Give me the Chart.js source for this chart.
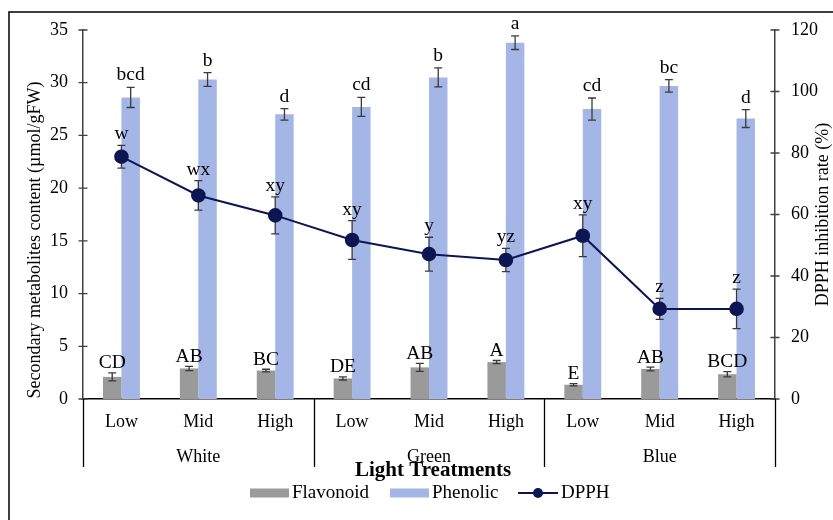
<!DOCTYPE html>
<html>
<head>
<meta charset="utf-8">
<script src="https://cdn.jsdelivr.net/npm/chart.js@4.4.0/dist/chart.umd.min.js"></script>
<style>
  html, body { margin: 0; padding: 0; background: #fff; }
  #wrap { width: 833px; height: 520px; position: relative; }
</style>
</head>
<body>
<div id="wrap"><canvas id="chart"></canvas></div>
<script>
// Light intensity levels within each light colour group
const intensities = ['Low', 'Mid', 'High', 'Low', 'Mid', 'High', 'Low', 'Mid', 'High'];
const lightGroups = ['White', 'Green', 'Blue'];

// Secondary metabolites (µmol/gFW), mean and error
const flavonoid    = [2.1, 2.9, 2.7, 1.95, 3.0, 3.5, 1.35, 2.85, 2.35];
const flavonoidErr = [0.38, 0.2, 0.12, 0.15, 0.38, 0.15, 0.1, 0.18, 0.25];
const phenolic     = [28.6, 30.3, 27.0, 27.7, 30.5, 33.8, 27.5, 29.7, 26.6];
const phenolicErr  = [0.95, 0.65, 0.55, 0.9, 0.9, 0.65, 1.05, 0.6, 0.85];

// DPPH inhibition rate (%), mean and error
const dpph    = [78.8, 66.2, 59.7, 51.7, 47.1, 45.2, 53.1, 29.3, 29.3];
const dpphErr = [3.7, 4.8, 6.0, 6.3, 5.5, 3.8, 6.8, 3.4, 6.4];

// Significance letters
const flavonoidLetters = ['CD', 'AB', 'BC', 'DE', 'AB', 'A', 'E', 'AB', 'BCD'];
const phenolicLetters  = ['bcd', 'b', 'd', 'cd', 'b', 'a', 'cd', 'bc', 'd'];
const dpphLetters      = ['w', 'wx', 'xy', 'xy', 'y', 'yz', 'xy', 'z', 'z'];

const SERIF = '"Liberation Serif", "Times New Roman", serif';
const GRAY = '#9a9a9a';
const BLUE = '#a4b6e6';
const NAVY = '#0d1652';
const ERR = '#3a3a3a';

function errorBar(ctx, x, yTop, yBot, half) {
  ctx.beginPath();
  ctx.moveTo(x, yTop); ctx.lineTo(x, yBot);
  ctx.moveTo(x - half, yTop); ctx.lineTo(x + half, yTop);
  ctx.moveTo(x - half, yBot); ctx.lineTo(x + half, yBot);
  ctx.stroke();
}

const decor = {
  id: 'decor',
  beforeDraw(chart) {
    const { ctx, width, height } = chart;
    ctx.save();
    ctx.fillStyle = '#fff';
    ctx.fillRect(0, 0, width, height);
    // figure frame
    ctx.strokeStyle = '#000';
    ctx.lineWidth = 1.5;
    ctx.beginPath();
    ctx.moveTo(9, height + 2);
    ctx.lineTo(9, 12);
    ctx.lineTo(width + 2, 12);
    ctx.stroke();
    ctx.restore();
  },
  beforeDatasetDraw(chart, args) {
    if (args.index !== 2) return;
    const { ctx, scales } = chart;
    ctx.save();
    ctx.strokeStyle = ERR;
    ctx.lineWidth = 1.3;
    const fMeta = chart.getDatasetMeta(0), pMeta = chart.getDatasetMeta(1), dMeta = chart.getDatasetMeta(2);
    for (let i = 0; i < intensities.length; i++) {
      errorBar(ctx, fMeta.data[i].x,
        scales.y.getPixelForValue(flavonoid[i] + flavonoidErr[i]),
        scales.y.getPixelForValue(flavonoid[i] - flavonoidErr[i]), 4);
      errorBar(ctx, pMeta.data[i].x,
        scales.y.getPixelForValue(phenolic[i] + phenolicErr[i]),
        scales.y.getPixelForValue(phenolic[i] - phenolicErr[i]), 4);
      errorBar(ctx, dMeta.data[i].x,
        scales.y1.getPixelForValue(dpph[i] + dpphErr[i]),
        scales.y1.getPixelForValue(dpph[i] - dpphErr[i]), 4);
    }
    ctx.restore();
  },
  afterDatasetsDraw(chart) {
    const { ctx, scales } = chart;
    const fMeta = chart.getDatasetMeta(0), pMeta = chart.getDatasetMeta(1), dMeta = chart.getDatasetMeta(2);
    ctx.save();
    ctx.fillStyle = '#000';
    ctx.font = '19.5px ' + SERIF;
    ctx.textAlign = 'center';
    ctx.textBaseline = 'alphabetic';
    for (let i = 0; i < intensities.length; i++) {
      ctx.fillText(flavonoidLetters[i], fMeta.data[i].x,
        scales.y.getPixelForValue(flavonoid[i] + flavonoidErr[i]) - 4.5);
      ctx.fillText(phenolicLetters[i], pMeta.data[i].x,
        scales.y.getPixelForValue(phenolic[i] + phenolicErr[i]) - 7);
      ctx.fillText(dpphLetters[i], dMeta.data[i].x,
        scales.y1.getPixelForValue(dpph[i] + dpphErr[i]) - 6);
    }
    ctx.restore();
  },
  afterDraw(chart) {
    const { ctx, scales, chartArea } = chart;
    const x = scales.x, y = scales.y, y1 = scales.y1;
    ctx.save();
    // crossing tick marks on both value axes
    ctx.strokeStyle = '#404040';
    ctx.lineWidth = 1.3;
    ctx.beginPath();
    y.ticks.forEach(t => {
      const py = y.getPixelForValue(t.value);
      ctx.moveTo(chartArea.left - 4.5, py); ctx.lineTo(chartArea.left + 4.5, py);
    });
    y1.ticks.forEach(t => {
      const py = y1.getPixelForValue(t.value);
      ctx.moveTo(chartArea.right - 4.5, py); ctx.lineTo(chartArea.right + 4.5, py);
    });
    ctx.stroke();

    // group separators below the category axis
    const step = (chartArea.right - chartArea.left) / intensities.length;
    ctx.strokeStyle = '#000';
    ctx.lineWidth = 1.3;
    ctx.beginPath();
    for (let g = 0; g <= lightGroups.length; g++) {
      const px = Math.round(chartArea.left + g * 3 * step) + 0.5;
      ctx.moveTo(px, chartArea.bottom);
      ctx.lineTo(px, chartArea.bottom + 68);
    }
    ctx.stroke();

    ctx.fillStyle = '#000';
    ctx.textAlign = 'center';
    ctx.textBaseline = 'middle';
    ctx.font = '18px ' + SERIF;
    lightGroups.forEach((name, g) => {
      const cx = (x.getPixelForValue(g * 3) + x.getPixelForValue(g * 3 + 2)) / 2;
      ctx.fillText(name, cx, chartArea.bottom + 58);
    });

    // axis title for the categories
    const midX = (chartArea.left + chartArea.right) / 2 + 4;
    ctx.font = 'bold 21px ' + SERIF;
    ctx.fillText('Light Treatments', midX, chartArea.bottom + 72);

    // value axis titles
    ctx.font = '18px ' + SERIF;
    ctx.save();
    ctx.translate(35, 240);
    ctx.rotate(-Math.PI / 2);
    ctx.fillText('Secondary metabolites content (\u00b5mol/gFW)', 0, 0);
    ctx.restore();
    ctx.save();
    ctx.translate(823, (chartArea.top + chartArea.bottom) / 2);
    ctx.rotate(-Math.PI / 2);
    ctx.fillText('DPPH inhibition rate (%)', 0, 0);
    ctx.restore();

    // legend
    const ly = chartArea.bottom + 94;
    ctx.textAlign = 'left';
    ctx.font = '19px ' + SERIF;
    ctx.fillStyle = GRAY;
    ctx.fillRect(250, ly - 4.5, 39, 9);
    ctx.fillStyle = '#000';
    ctx.fillText('Flavonoid', 292, ly);
    ctx.fillStyle = BLUE;
    ctx.fillRect(390, ly - 4.5, 39, 9);
    ctx.fillStyle = '#000';
    ctx.fillText('Phenolic', 432, ly);
    ctx.strokeStyle = NAVY;
    ctx.lineWidth = 2;
    ctx.beginPath();
    ctx.moveTo(518, ly); ctx.lineTo(558, ly);
    ctx.stroke();
    ctx.fillStyle = NAVY;
    ctx.beginPath();
    ctx.arc(538, ly, 5, 0, Math.PI * 2);
    ctx.fill();
    ctx.fillStyle = '#000';
    ctx.fillText('DPPH', 561, ly);
    ctx.restore();
  }
};

new Chart(document.getElementById('chart'), {
  type: 'bar',
  data: {
    labels: intensities,
    datasets: [
      { label: 'Flavonoid', data: flavonoid, backgroundColor: GRAY, yAxisID: 'y', order: 1,
        categoryPercentage: 0.48, barPercentage: 1.0 },
      { label: 'Phenolic', data: phenolic, backgroundColor: BLUE, yAxisID: 'y', order: 1,
        categoryPercentage: 0.48, barPercentage: 1.0 },
      { type: 'line', label: 'DPPH', data: dpph, yAxisID: 'y1', order: 0,
        borderColor: NAVY, borderWidth: 2, backgroundColor: NAVY,
        pointRadius: 6.3, pointBackgroundColor: NAVY, pointBorderColor: NAVY,
        tension: 0, fill: false }
    ]
  },
  plugins: [decor],
  options: {
    responsive: true,
    maintainAspectRatio: false,
    animation: false,
    devicePixelRatio: 1,
    layout: { padding: { top: 30, left: 0, right: 0, bottom: 0 } },
    plugins: { legend: { display: false }, tooltip: { enabled: false } },
    scales: {
      x: {
        offset: true,
        grid: { display: false, drawTicks: false },
        border: { display: true, color: '#000', width: 1.5 },
        ticks: { color: '#000', font: { family: SERIF, size: 18 }, padding: 12, maxRotation: 0, autoSkip: false },
        afterFit(s) { s.height = 121; }
      },
      y: {
        position: 'left',
        min: 0, max: 35,
        grid: { display: false, drawTicks: false },
        border: { display: true, color: '#404040', width: 1.5 },
        ticks: { stepSize: 5, color: '#000', font: { family: SERIF, size: 18 }, padding: 15 },
        afterFit(s) { s.width = 83; }
      },
      y1: {
        position: 'right',
        min: 0, max: 120,
        grid: { display: false, drawTicks: false },
        border: { display: true, color: '#404040', width: 1.5 },
        ticks: { stepSize: 20, color: '#000', font: { family: SERIF, size: 18 }, padding: 16 },
        afterFit(s) { s.width = 58; }
      }
    }
  }
});
</script>
</body>
</html>
